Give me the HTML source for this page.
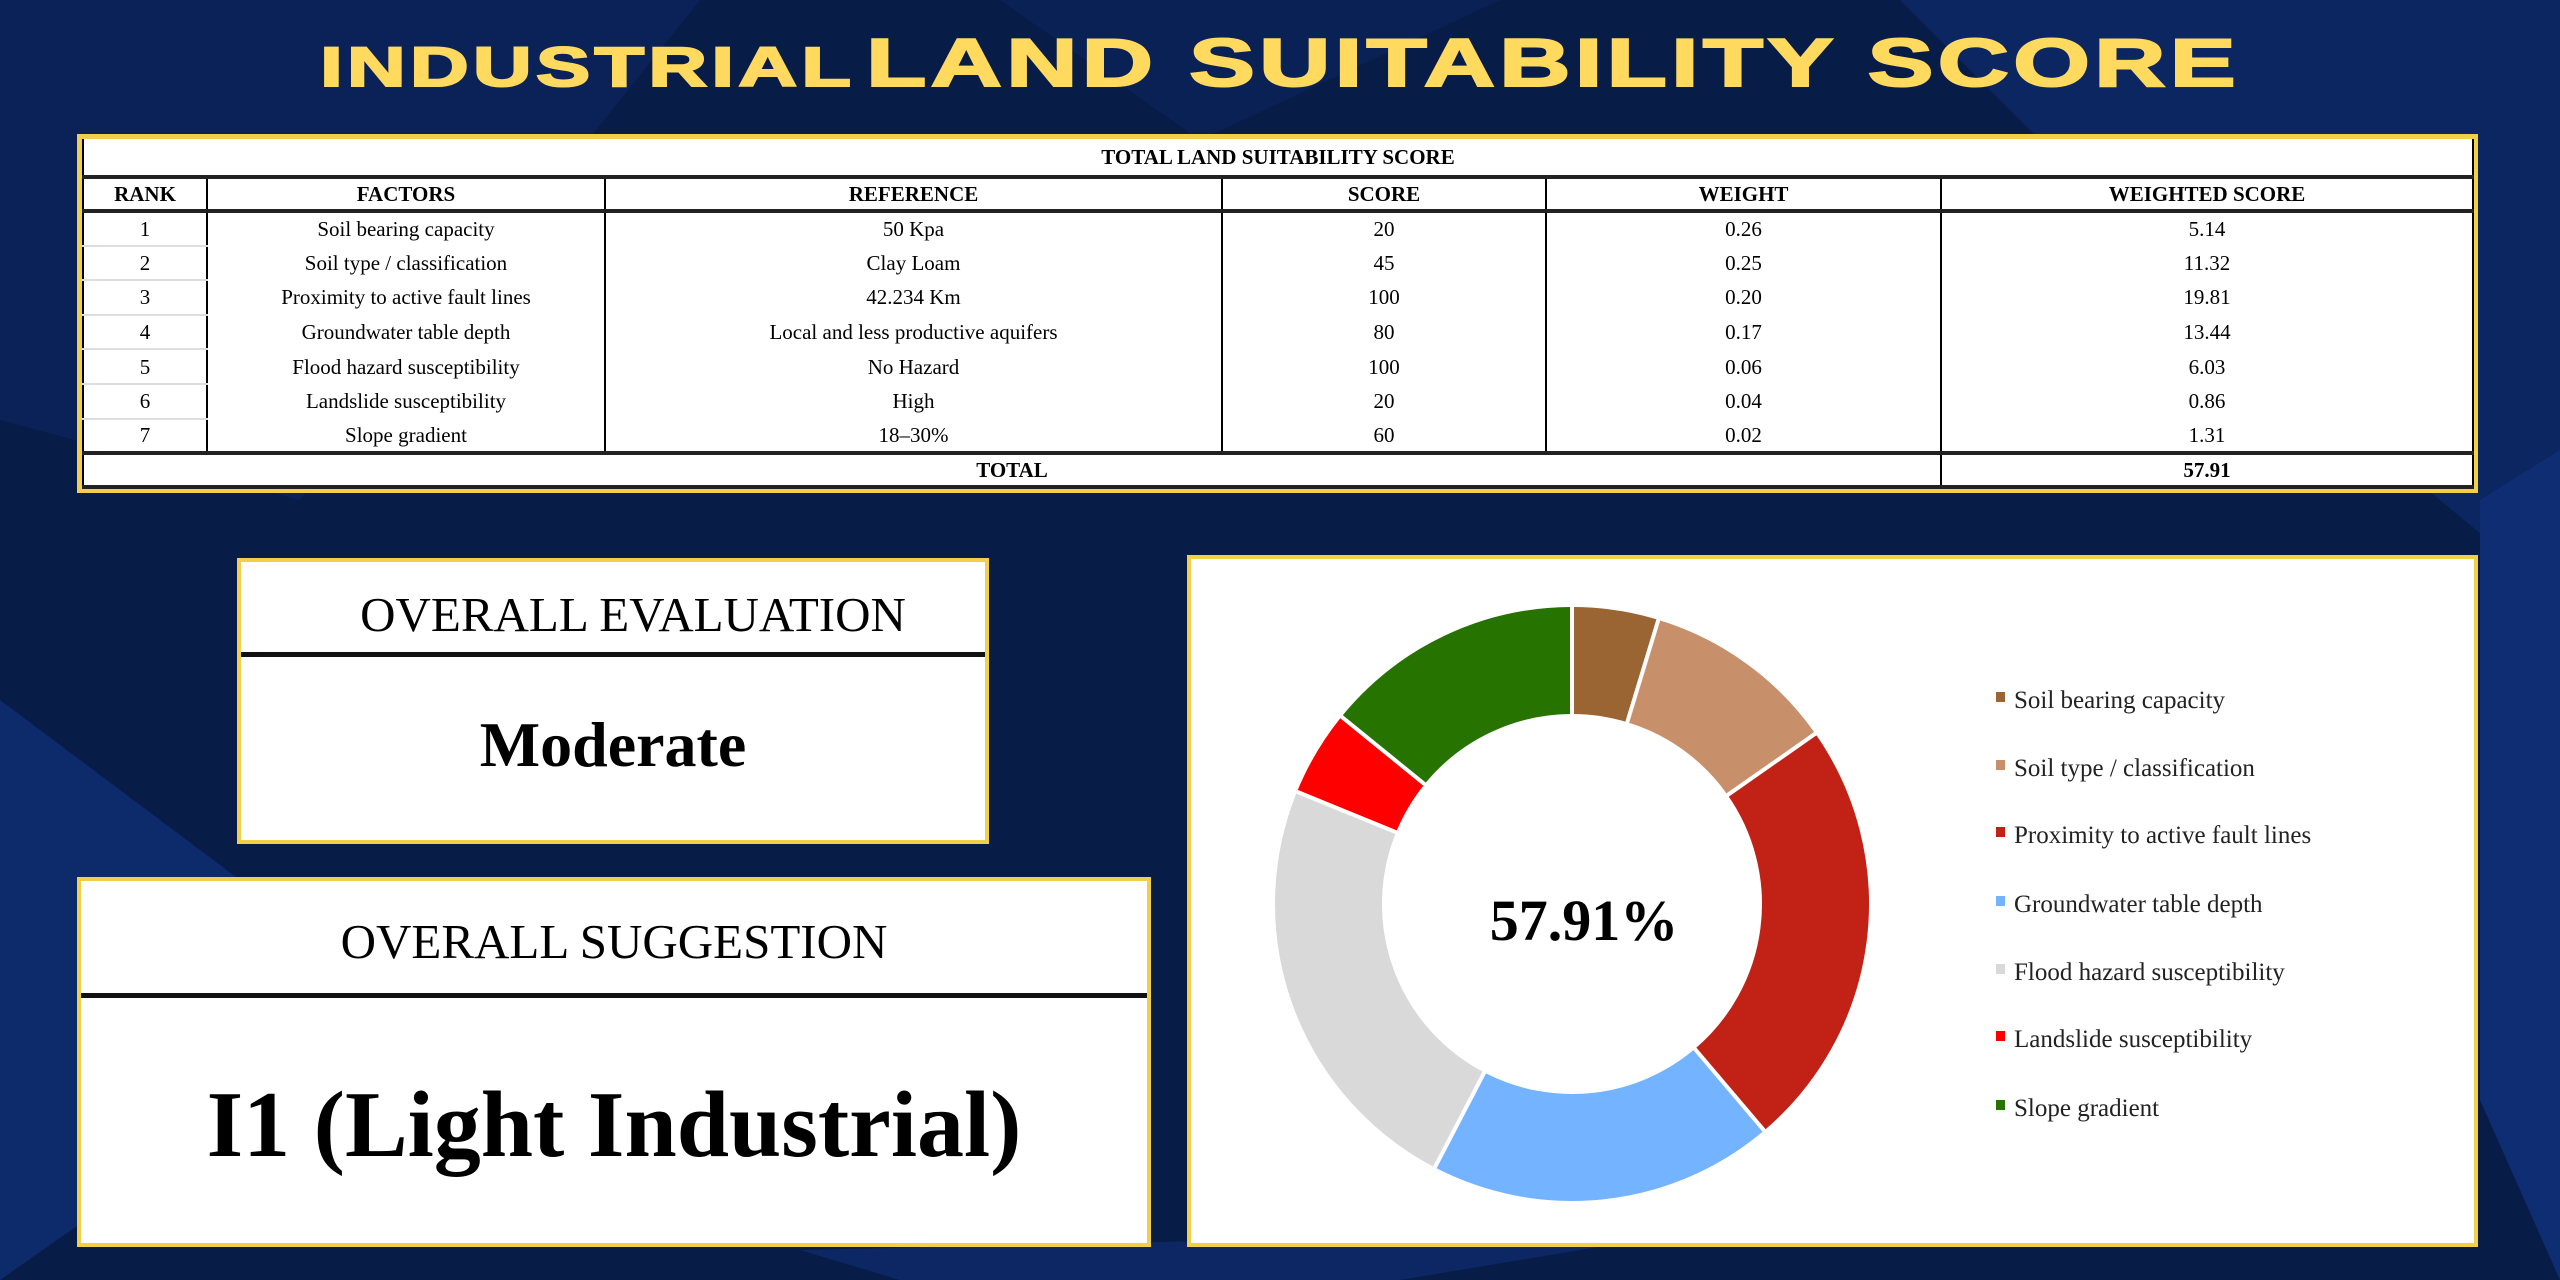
<!DOCTYPE html>
<html><head><meta charset="utf-8"><style>
body{margin:0;width:2560px;height:1280px;overflow:hidden;background:#081c48;font-family:"Liberation Serif",serif;position:relative}
.abs{position:absolute}
.title{left:0;width:2560px;top:24px;text-align:center;color:#FFDA5E;font-family:"Liberation Sans",sans-serif;font-weight:bold;letter-spacing:3px;white-space:nowrap;-webkit-text-stroke:2px #FFDA5E}
.title div{display:inline-block;transform:scaleX(1.45);transform-origin:center}
.box{background:#fff;border:4px solid #f2cf4a;box-sizing:border-box}
table{border-collapse:collapse;table-layout:fixed;font-size:21px;color:#000}
td{text-align:center;padding:0;border-left:2px solid #000;border-right:2px solid #000;height:34.6px;line-height:30px;box-sizing:border-box}
tr.t td{height:38px;font-weight:bold;border-bottom:4px solid #222}
tr.h td{height:32px;font-weight:bold;border-bottom:4px solid #222}
tr.tot td{height:32px;font-weight:bold;border-top:4px solid #222;border-bottom:4px solid #222}
td.r{border-bottom:2px solid #ddd}
</style></head><body>
<svg class="abs" style="left:0;top:0" width="2560" height="1280">
<polygon points="0,0 700,0 300,500 0,420" fill="#0a2257"/>
<polygon points="1900,0 2560,0 2560,600 2200,300" fill="#0b2661"/>
<polygon points="0,700 400,1000 0,1280" fill="#0d2a6b"/>
<polygon points="2480,500 2560,450 2560,1280 2480,1100" fill="#0e2d72"/>
<polygon points="1000,0 1500,0 1200,140" fill="#0a2155"/>
<polygon points="800,1250 1700,1230 1400,1280 900,1280" fill="#0c2764"/>
</svg>
<div class="abs title"><div><span style="font-size:56px">INDUSTRIAL</span> <span style="font-size:68px">LAND SUITABILITY SCORE</span></div></div>

<div class="abs box" style="left:77px;top:134px;width:2401px;height:359px;border-width:5px"></div>
<table class="abs" style="left:82px;top:139px;width:2390px">
<colgroup><col style="width:124px"><col style="width:398px"><col style="width:617px"><col style="width:324px"><col style="width:395px"><col style="width:532px"></colgroup>
<tr class="t"><td colspan="6">TOTAL LAND SUITABILITY SCORE</td></tr>
<tr class="h"><td>RANK</td><td>FACTORS</td><td>REFERENCE</td><td>SCORE</td><td>WEIGHT</td><td>WEIGHTED SCORE</td></tr>
<tr><td class="r">1</td><td>Soil bearing capacity</td><td>50 Kpa</td><td>20</td><td>0.26</td><td>5.14</td></tr>
<tr><td class="r">2</td><td>Soil type / classification</td><td>Clay Loam</td><td>45</td><td>0.25</td><td>11.32</td></tr>
<tr><td class="r">3</td><td>Proximity to active fault lines</td><td>42.234 Km</td><td>100</td><td>0.20</td><td>19.81</td></tr>
<tr><td class="r">4</td><td>Groundwater table depth</td><td>Local and less productive aquifers</td><td>80</td><td>0.17</td><td>13.44</td></tr>
<tr><td class="r">5</td><td>Flood hazard susceptibility</td><td>No Hazard</td><td>100</td><td>0.06</td><td>6.03</td></tr>
<tr><td class="r">6</td><td>Landslide susceptibility</td><td>High</td><td>20</td><td>0.04</td><td>0.86</td></tr>
<tr><td>7</td><td>Slope gradient</td><td>18–30%</td><td>60</td><td>0.02</td><td>1.31</td></tr>
<tr class="tot"><td colspan="5">TOTAL</td><td>57.91</td></tr>
</table>

<div class="abs box" style="left:237px;top:558px;width:752px;height:286px"></div>
<div class="abs" style="left:241px;top:652px;width:744px;height:5px;background:#111"></div>
<div class="abs" style="left:241px;top:585px;width:744px;text-align:center;font-size:49px;line-height:60px;padding-left:20px">OVERALL EVALUATION</div>
<div class="abs" style="left:241px;top:705px;width:744px;text-align:center;font-size:64px;font-weight:bold;line-height:80px">Moderate</div>

<div class="abs box" style="left:77px;top:877px;width:1074px;height:370px"></div>
<div class="abs" style="left:81px;top:993px;width:1066px;height:5px;background:#111"></div>
<div class="abs" style="left:81px;top:912px;width:1066px;text-align:center;font-size:49px;line-height:60px">OVERALL SUGGESTION</div>
<div class="abs" style="left:81px;top:1070px;width:1066px;text-align:center;font-size:94px;font-weight:bold;line-height:110px">I1 (Light Industrial)</div>

<div class="abs box" style="left:1187px;top:555px;width:1291px;height:692px"></div>
<svg class="abs" style="left:0;top:0" width="2560" height="1280">
<g transform="translate(1572,904)" fill="none" stroke-width="107">
<circle r="243.5" stroke="#9A6433" stroke-dasharray="71.8 2000" transform="rotate(-90)"/>
<circle r="243.5" stroke="#C8906A" stroke-dasharray="161.9 2000" transform="rotate(-73.1)"/>
<circle r="243.5" stroke="#C22116" stroke-dasharray="360 2000" transform="rotate(-35)"/>
<circle r="243.5" stroke="#74B3FF" stroke-dasharray="288.1 2000" transform="rotate(49.7)"/>
<circle r="243.5" stroke="#D9D9D9" stroke-dasharray="360 2000" transform="rotate(117.5)"/>
<circle r="243.5" stroke="#FF0000" stroke-dasharray="71.8 2000" transform="rotate(202.2)"/>
<circle r="243.5" stroke="#267300" stroke-dasharray="215.9 2000" transform="rotate(219.1)"/>
<g stroke="#fff" stroke-width="4">
<line x1="0" y1="-186" x2="0" y2="-300"/>
<line x1="0" y1="-186" x2="0" y2="-300" transform="rotate(16.9)"/>
<line x1="0" y1="-186" x2="0" y2="-300" transform="rotate(55)"/>
<line x1="0" y1="-186" x2="0" y2="-300" transform="rotate(139.7)"/>
<line x1="0" y1="-186" x2="0" y2="-300" transform="rotate(207.5)"/>
<line x1="0" y1="-186" x2="0" y2="-300" transform="rotate(292.2)"/>
<line x1="0" y1="-186" x2="0" y2="-300" transform="rotate(309.1)"/>
</g></g>
<text x="1584" y="940" text-anchor="middle" font-family="Liberation Serif" font-weight="bold" font-size="58">57.91%</text>
<g font-family="Liberation Serif" font-size="25" fill="#222">
<rect x="1996" y="692" width="9" height="10" fill="#9A6433"/><text x="2014" y="708">Soil bearing capacity</text>
<rect x="1996" y="760" width="9" height="10" fill="#C8906A"/><text x="2014" y="776">Soil type / classification</text>
<rect x="1996" y="827" width="9" height="10" fill="#C22116"/><text x="2014" y="843">Proximity to active fault lines</text>
<rect x="1996" y="896" width="9" height="10" fill="#74B3FF"/><text x="2014" y="912">Groundwater table depth</text>
<rect x="1996" y="964" width="9" height="10" fill="#D9D9D9"/><text x="2014" y="980">Flood hazard susceptibility</text>
<rect x="1996" y="1031" width="9" height="10" fill="#FF0000"/><text x="2014" y="1047">Landslide susceptibility</text>
<rect x="1996" y="1100" width="9" height="10" fill="#267300"/><text x="2014" y="1116">Slope gradient</text>
</g>
</svg>
</body></html>
